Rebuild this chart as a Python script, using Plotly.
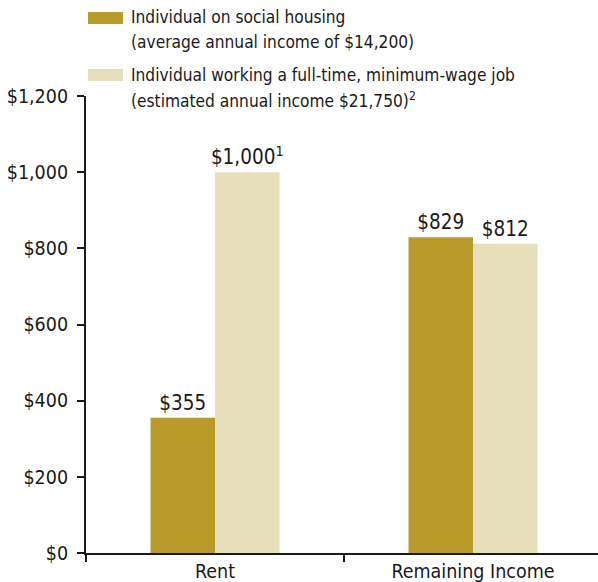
import plotly.graph_objects as go

categories = ["Rent", "Remaining Income"]
social_housing = [355, 829]
minimum_wage = [1000, 812]
social_notes = ["", ""]
minimum_notes = ["1", ""]
legend_lines = [
    ["Individual on social housing", "(average annual income of $14,200)"],
    ["Individual working a full-time, minimum-wage job", "(estimated annual income $21,750)<sup>2</sup>"],
]
y_ticks = [0, 200, 400, 600, 800, 1000, 1200]
y_tick_labels = ["$0", "$200", "$400", "$600", "$800", "$1,000", "$1,200"]

GOLD = "#B89B2A"
BEIGE = "#E6DFBC"
FONT = "DejaVu Sans Condensed, Liberation Sans, sans-serif"
INK = "#1a1a1a"


def labels(vals, notes):
    out = []
    for v, n in zip(vals, notes):
        s = "${:,}".format(v)
        if n:
            s += "<sup>" + n + "</sup>"
        out.append(s)
    return out


fig = go.Figure()
fig.add_trace(go.Bar(
    x=categories, y=social_housing, marker=dict(color=GOLD, line=dict(width=0)),
    text=labels(social_housing, social_notes), textposition="outside",
    constraintext="none",
    textfont=dict(family=FONT, size=20.5, color=INK), cliponaxis=False,
    name="social", showlegend=False,
))
fig.add_trace(go.Bar(
    x=categories, y=minimum_wage, marker=dict(color=BEIGE, line=dict(width=0)),
    text=labels(minimum_wage, minimum_notes), textposition="outside",
    constraintext="none",
    textfont=dict(family=FONT, size=20.5, color=INK), cliponaxis=False,
    name="minimum", showlegend=False,
))

# manual legend (plot area: paper y=1 at 96px, y=0 at 553px)
def py(px):
    return (553 - px) / 457.0

colors = [GOLD, BEIGE]
sw_px = [(12, 24), (69, 81)]
line_px = [(17, 42), (75, 100)]
for c, (t, b), lines, ys in zip(colors, sw_px, legend_lines, line_px):
    fig.add_shape(type="rect", xref="paper", yref="paper", x0=0.0039, x1=0.0723,
                  y0=py(b), y1=py(t), fillcolor=c, line=dict(width=0))
    for txt, ypx in zip(lines, ys):
        fig.add_annotation(xref="paper", yref="paper", x=0.0879, y=py(ypx), text=txt,
                           showarrow=False, xanchor="left", yanchor="middle", align="left",
                           xshift=-2, font=dict(family=FONT, size=17.2, color=INK))

fig.update_layout(
    width=598, height=582,
    margin=dict(l=86, r=0, t=96, b=29),
    paper_bgcolor="white", plot_bgcolor="white",
    barmode="group", bargap=0.5, bargroupgap=0,
    font=dict(family=FONT, size=19, color=INK),
    xaxis=dict(
        type="category", range=[-0.5, 1.4845], tickson="boundaries",
        ticks="outside", ticklen=7, tickwidth=2, tickcolor=INK,
        showline=True, linewidth=2, linecolor=INK, showgrid=False,
        tickfont=dict(family=FONT, size=19.5, color=INK),
        automargin=False,
    ),
    yaxis=dict(
        range=[0, 1200], tickvals=y_ticks, ticktext=y_tick_labels,
        ticks="outside", ticklen=7, tickwidth=2, tickcolor=INK,
        showline=True, linewidth=2, linecolor=INK, showgrid=False, zeroline=False,
        tickfont=dict(family=FONT, size=19.5, color=INK), ticklabelstandoff=5,
        automargin=False,
    ),
)

fig.write_html("out.html", config={"displayModeBar": False},
               post_script="document.body.style.margin='0';")
